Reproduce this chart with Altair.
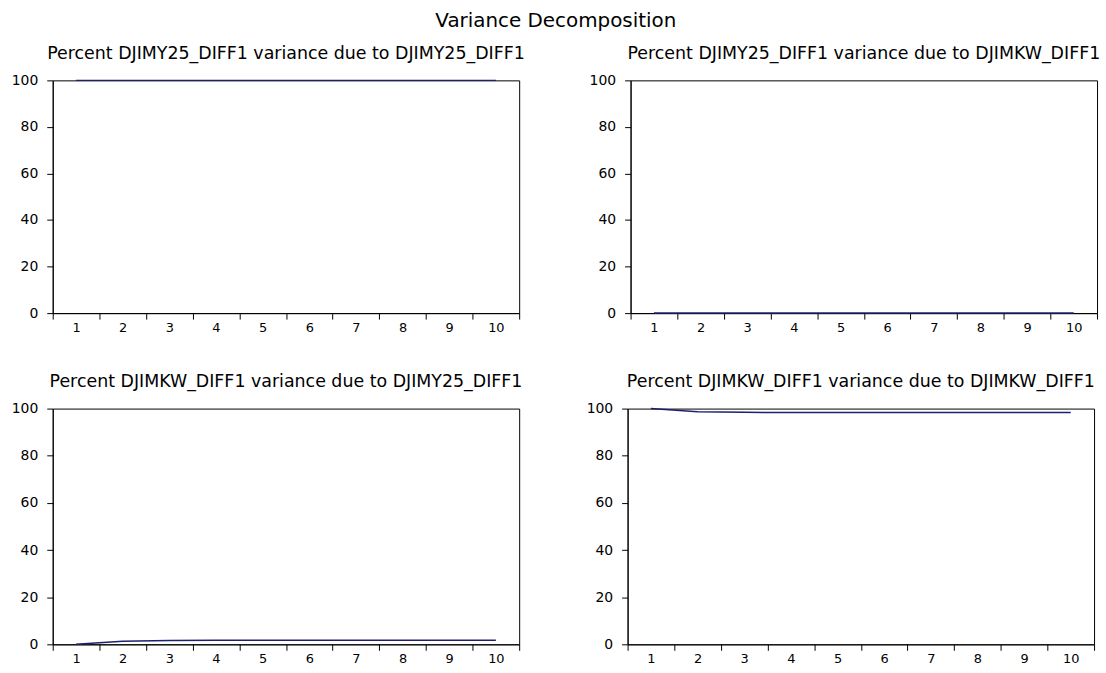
import altair as alt
import pandas as pd

periods = [1, 2, 3, 4, 5, 6, 7, 8, 9, 10]
y25_due_y25 = [100.0, 100.0, 100.0, 100.0, 100.0, 100.0, 100.0, 100.0, 100.0, 100.0]
y25_due_kw = [0.0, 0.0, 0.0, 0.0, 0.0, 0.0, 0.0, 0.0, 0.0, 0.0]
kw_due_y25 = [0.0, 1.3, 1.6, 1.7, 1.7, 1.7, 1.7, 1.7, 1.7, 1.7]
kw_due_kw = [100.0, 98.7, 98.4, 98.3, 98.3, 98.3, 98.3, 98.3, 98.3, 98.3]

titles = [
    "Percent DJIMY25_DIFF1 variance due to DJIMY25_DIFF1",
    "Percent DJIMY25_DIFF1 variance due to DJIMKW_DIFF1",
    "Percent DJIMKW_DIFF1 variance due to DJIMY25_DIFF1",
    "Percent DJIMKW_DIFF1 variance due to DJIMKW_DIFF1",
]
y_ticks = [0, 20, 40, 60, 80, 100]

FONT = "DejaVu Sans"
LINE = "#1f1f70"


def panel(vals, title, h):
    df = pd.DataFrame({"period": periods, "value": vals})
    return (
        alt.Chart(
            df,
            title=alt.TitleParams(
                title, anchor="middle", fontSize=17.5, font=FONT,
                fontWeight="normal", color="black", offset=11,
            ),
        )
        .mark_line(color=LINE, strokeWidth=1.5)
        .encode(
            x=alt.X(
                "period:O",
                scale=alt.Scale(type="band", paddingInner=0, paddingOuter=0),
                bandPosition=0.5,
                axis=alt.Axis(title=None, labelAngle=0, tickBand="extent",
                              tickSize=6, labelPadding=2, labelFontSize=13),
            ),
            y=alt.Y(
                "value:Q",
                scale=alt.Scale(domain=[0, 100], nice=False, zero=True),
                axis=alt.Axis(title=None, values=y_ticks, tickSize=6,
                              labelPadding=9, labelFontSize=14),
            ),
        )
        .properties(width=469, height=h)
    )


top = alt.hconcat(panel(y25_due_y25, titles[0], 234), panel(y25_due_kw, titles[1], 234), spacing=62)
bottom = alt.hconcat(panel(kw_due_y25, titles[2], 237), panel(kw_due_kw, titles[3], 237), spacing=62)

chart = (
    alt.vconcat(top, bottom, spacing=38)
    .properties(
        title=alt.TitleParams("Variance Decomposition", anchor="middle",
                              fontSize=20, font=FONT, fontWeight="normal",
                              color="black", offset=14),
        padding={"left": 10, "top": 9, "right": 5, "bottom": 0},
        background="white",
    )
    .configure_view(stroke="black", strokeWidth=1)
    .configure_axis(
        grid=False, domainColor="black", tickColor="black", labelColor="black",
        labelFont=FONT, domainWidth=1, tickWidth=1,
    )
)

chart.save("out.html", embed_options={"renderer": "svg", "actions": False})
